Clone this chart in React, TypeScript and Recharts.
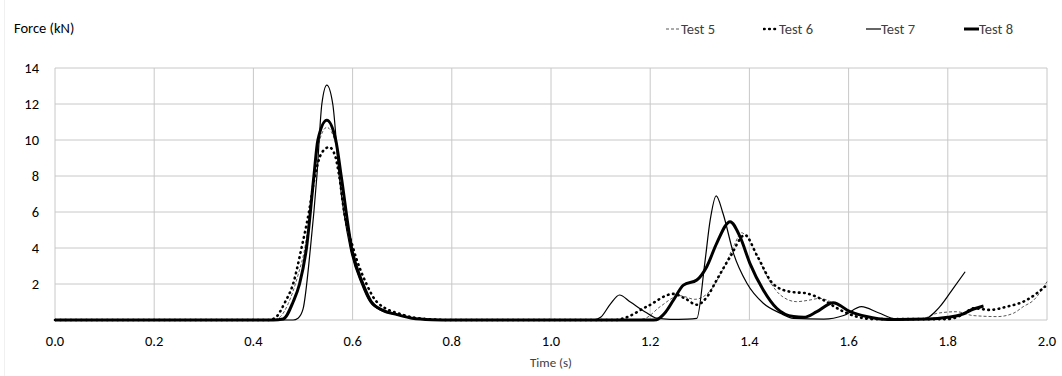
import React from 'react';
import { LineChart, Line, XAxis, YAxis, CartesianGrid } from 'recharts';

const FONT = 'Carlito, Lato, "Open Sans", sans-serif';

const xTicks = [0, 0.2, 0.4, 0.6, 0.8, 1.0, 1.2, 1.4, 1.6, 1.8, 2.0];
const yTicks = [2, 4, 6, 8, 10, 12, 14];

const test5Time = [
  0, 0.44, 0.455, 0.47, 0.49, 0.505, 0.52, 0.53, 0.548, 0.566, 0.578, 0.598, 0.622, 0.64, 0.69, 0.76,
  1.17, 1.19, 1.22, 1.26, 1.29, 1.32, 1.35, 1.37, 1.384, 1.4, 1.42, 1.44, 1.462, 1.495, 1.52, 1.542,
  1.583, 1.616, 1.65, 1.7, 1.75, 1.778, 1.818, 1.85, 1.9, 1.932, 1.952, 1.973, 2.0,
];
const test5Force = [
  0, 0, 0.2, 0.9, 2.5, 4.2, 7.5, 9.6, 10.7, 9.8, 7.8, 4, 2, 1, 0.3, 0.02,
  0, 0.09, 0.74, 1.35, 1.15, 1.6, 3.0, 4.2, 4.85, 4.4, 3.3, 2.2, 1.4, 1.02, 1.1, 1.2,
  0.74, 0.37, 0.1, 0.03, 0.09, 0.37, 0.46, 0.25, 0.19, 0.37, 0.74, 1.1, 2.13,
];

const test6Time = [
  0, 0.43, 0.443, 0.464, 0.48, 0.497, 0.512, 0.524, 0.538, 0.553, 0.565, 0.573, 0.583, 0.601, 0.628,
  0.649, 0.7, 0.75, 0.8, 1.13, 1.146, 1.193, 1.247, 1.27, 1.294, 1.315, 1.334, 1.361, 1.391, 1.415,
  1.448, 1.482, 1.515, 1.549, 1.583, 1.616, 1.65, 1.8, 1.83, 1.852, 1.885, 1.919, 1.959, 1.996,
];
const test6Force = [
  0, 0, 0.1, 1, 2, 4, 6, 8, 9.3, 9.6, 9.1, 8, 6, 4, 2,
  1, 0.3, 0.05, 0, 0, 0.09, 0.74, 1.45, 1.2, 0.85, 1.3, 2.22, 3.5, 4.72, 3.6,
  2.0, 1.57, 1.48, 1.11, 0.56, 0.19, 0.05, 0.05, 0.3, 0.65, 0.56, 0.74, 1.11, 1.85,
];

const test7Time = [
  0, 0.48, 0.49, 0.5, 0.515, 0.528, 0.538, 0.548, 0.56, 0.573, 0.595, 0.618, 0.635, 0.66, 0.689, 0.72,
  0.76, 1.085, 1.1, 1.12, 1.138, 1.16, 1.19, 1.213, 1.24, 1.275, 1.294, 1.31, 1.321, 1.333, 1.347,
  1.368, 1.395, 1.428, 1.462, 1.489, 1.55, 1.59, 1.626, 1.66, 1.7, 1.751, 1.784, 1.811, 1.835,
];
const test7Force = [
  0, 0, 0.1, 0.6, 4, 8, 12, 13.05, 12, 8, 4, 2, 1, 0.5, 0.3, 0.1,
  0, 0, 0.15, 0.9, 1.39, 1.0, 0.45, 0.1, 0.04, 0.05, 0.09, 3.15, 5.56, 6.9, 5.9,
  3.7, 2.04, 0.93, 0.38, 0.09, 0.05, 0.25, 0.74, 0.4, 0.02, 0.04, 0.74, 1.76, 2.68,
];

const test8Time = [
  0, 0.44, 0.46, 0.48, 0.493, 0.507, 0.522, 0.53, 0.548, 0.566, 0.577, 0.598, 0.621, 0.638, 0.66,
  0.69, 0.72, 0.76, 0.8, 1.2, 1.213, 1.23, 1.247, 1.267, 1.294, 1.314, 1.334, 1.361, 1.381, 1.401,
  1.428, 1.455, 1.489, 1.51, 1.536, 1.569, 1.603, 1.636, 1.68, 1.76, 1.8, 1.825, 1.852, 1.872,
];
const test8Force = [
  0, 0, 0.05, 1.0, 2, 4, 8, 10, 11.1, 10, 8, 4, 2, 1, 0.55,
  0.3, 0.1, 0.02, 0, 0, 0.02, 0.4, 1.11, 1.94, 2.22, 2.96, 4.26, 5.46, 4.63, 3.15,
  1.67, 0.65, 0.19, 0.15, 0.46, 0.96, 0.46, 0.19, 0.03, 0.05, 0.15, 0.28, 0.61, 0.78,
];

const zip = (ts: number[], fs: number[]) => ts.map((t, i) => ({ t, f: fs[i] }));

const series = [
  { name: 'Test 5', data: zip(test5Time, test5Force), stroke: '#595959', width: 1, dash: '3 2', cap: 'butt' },
  { name: 'Test 6', data: zip(test6Time, test6Force), stroke: '#000', width: 2.6, dash: '0.6 4.6', cap: 'round' },
  { name: 'Test 7', data: zip(test7Time, test7Force), stroke: '#000', width: 1.2, dash: undefined, cap: 'butt' },
  { name: 'Test 8', data: zip(test8Time, test8Force), stroke: '#000', width: 3, dash: undefined, cap: 'butt' },
];

const legendX = [665, 763, 865, 963];

function LegendItem({ s, x }: { s: (typeof series)[number]; x: number }) {
  return (
    <div style={{ position: 'absolute', left: x, top: 19, display: 'flex', alignItems: 'center', height: 20 }}>
      <svg width={16} height={20}>
        <line
          x1={1}
          x2={16}
          y1={10}
          y2={10}
          stroke={s.stroke}
          strokeWidth={s.width}
          strokeDasharray={s.dash}
          strokeLinecap={s.cap as any}
        />
      </svg>
      <span style={{ fontSize: 14.5, color: '#404040', fontFamily: FONT }}>{s.name}</span>
    </div>
  );
}

export default function App() {
  return (
    <div style={{ position: 'absolute', left: 0, top: 0, width: 1062, height: 376, background: '#fff' }}>
      <div style={{ position: 'absolute', left: 4, top: 0, width: 1, height: 376, background: '#f0f0f0' }} />
      <LineChart width={1062} height={376} margin={{ top: 68, right: 15, left: 0, bottom: 26 }}>
        <CartesianGrid stroke="#c8c8c8" strokeWidth={1} />
        <XAxis
          type="number"
          dataKey="t"
          domain={[0, 2]}
          ticks={xTicks}
          tickFormatter={(v: number) => v.toFixed(1)}
          axisLine={false}
          tickLine={false}
          tickSize={0}
          tickMargin={16}
          height={30}
          tick={{ fontSize: 14.5, fill: '#000', fontFamily: FONT }}
          allowDuplicatedCategory={false}
        />
        <YAxis
          type="number"
          domain={[0, 14]}
          ticks={yTicks}
          axisLine={false}
          tickLine={false}
          tickSize={0}
          tickMargin={16}
          width={55}
          tick={{ fontSize: 14.5, fill: '#000', fontFamily: FONT }}
        />
        {series.map((s) => (
          <Line
            key={s.name}
            data={s.data}
            dataKey="f"
            type="monotone"
            stroke={s.stroke}
            strokeWidth={s.width}
            strokeDasharray={s.dash}
            strokeLinecap={s.cap as any}
            dot={false}
            activeDot={false}
            isAnimationActive={false}
          />
        ))}
      </LineChart>
      <div style={{ position: 'absolute', left: 14, top: 19, fontSize: 14.5, color: '#000', fontFamily: FONT }}>
        Force (kN)
      </div>
      <div style={{ position: 'absolute', left: 501, width: 100, textAlign: 'center', top: 355, fontSize: 13, color: '#404040', fontFamily: FONT }}>
        Time (s)
      </div>
      {series.map((s, i) => (
        <LegendItem key={s.name} s={s} x={legendX[i]} />
      ))}
    </div>
  );
}
